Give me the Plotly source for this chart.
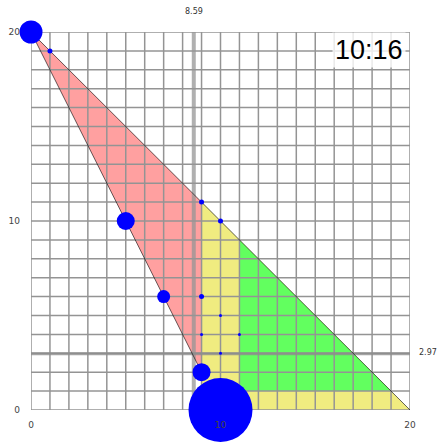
#Recreating the triangle / grid chart
import plotly.graph_objs as go

#Polygon regions
pink_x = [0, 9, 9]
pink_y = [20, 11, 2]
yellow_x = [9, 20, 9]
yellow_y = [11, 0, 0]
green_x = [11, 19, 11]
green_y = [9, 1, 1]

#Outline segments
edge_x = [9, 0, 20]
edge_y = [2, 20, 0]

#Blue points and their sizes
pts_x = [0, 1, 5, 7, 9, 10, 9, 10, 9, 11, 10, 9, 10]
pts_y = [20, 19, 10, 6, 11, 10, 6, 5, 4, 4, 3, 2, 0]
pts_size = [23, 5, 18, 13, 5, 5, 5, 3, 3, 3, 3, 18, 64]

#Reference lines
vline_x = 8.59
hline_y = 2.97
clock_text = "10:16"

tick_vals = list(range(0, 21))
tick_text = [str(v) if v % 10 == 0 else "" for v in tick_vals]

#grid drawn as a trace so it sits over the fills but under the points
grid_x, grid_y = [], []
for v in tick_vals:
    grid_x += [v, v, None, 0, 20, None]
    grid_y += [0, 20, None, v, v, None]

def poly(xs, ys, color):
    return go.Scatter(x=xs + xs[:1], y=ys + ys[:1], mode='lines', fill='toself',
                      fillcolor=color, line=dict(width=0), hoverinfo='skip')

data = [
    poly(pink_x, pink_y, '#ffa0a0'),
    poly(yellow_x, yellow_y, '#f0ec80'),
    poly(green_x, green_y, '#62ff5f'),
    go.Scatter(x=grid_x, y=grid_y, mode='lines', line=dict(color='#949494', width=1.5),
               hoverinfo='skip'),
    go.Scatter(x=[vline_x, vline_x], y=[0, 20], mode='lines',
               line=dict(color='rgba(150,150,150,0.75)', width=4), hoverinfo='skip'),
    go.Scatter(x=[0, 20], y=[hline_y, hline_y], mode='lines',
               line=dict(color='rgba(140,140,140,0.8)', width=3), hoverinfo='skip'),
    go.Scatter(x=edge_x, y=edge_y, mode='lines', line=dict(color='rgba(0,0,0,0.75)', width=0.8)),
    go.Scatter(x=pts_x, y=pts_y, mode='markers', cliponaxis=False,
               marker=dict(size=pts_size, color='#0000ff', opacity=1, line=dict(width=0))),
]

axis_common = dict(range=[0, 20], tickvals=tick_vals, ticktext=tick_text,
                   showgrid=False, zeroline=False, showline=False, ticks='',
                   tickfont=dict(family='DejaVu Sans', size=9, color='#444'),
                   automargin=False, fixedrange=True)

layout = go.Layout(
    width=437, height=442,
    margin=dict(l=31, r=27, t=32, b=32),
    plot_bgcolor='white', paper_bgcolor='white',
    showlegend=False,
    xaxis=dict(axis_common, ticklabelstandoff=8),
    yaxis=dict(axis_common, ticklabelstandoff=10),
    annotations=[
        dict(x=vline_x, y=1, yref='paper', yanchor='middle', yshift=21,
             text=f"{vline_x:.2f}", showarrow=False,
             font=dict(family='DejaVu Sans', size=8, color='#333')),
        dict(x=1, xref='paper', xanchor='left', xshift=7, y=hline_y, yanchor='middle',
             yshift=1, text=f"{hline_y:.2f}", showarrow=False,
             font=dict(family='DejaVu Sans', size=8, color='#333')),
        dict(x=1, y=1, xref='paper', yref='paper', xanchor='right', yanchor='top',
             xshift=-4, text=clock_text, showarrow=False,
             bgcolor='rgba(255,255,255,0.8)', borderpad=2,
             font=dict(family='Liberation Sans', size=27, color='black')),
    ],
)

fig = go.Figure(data=data, layout=layout)
#drop the page's default body margin so the figure fills the window exactly
fig.write_html("out.html", config={'displayModeBar': False},
               post_script="document.body.style.margin='0';document.body.style.overflow='hidden';")
